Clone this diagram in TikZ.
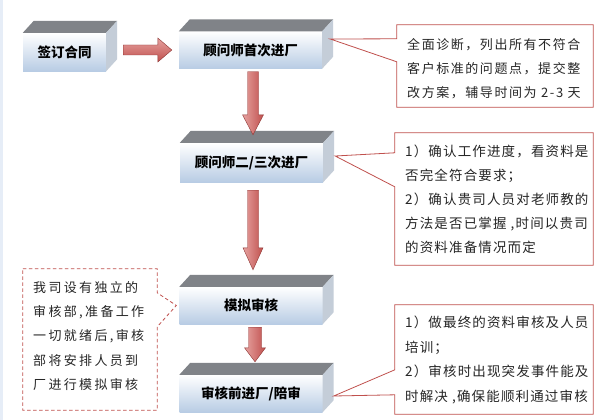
\documentclass[tikz,border=0pt]{standalone}
\usepackage{fontspec}
\newfontfamily\cjk{Noto Sans CJK SC}
\newfontfamily\cjka[LetterSpace=12]{Noto Sans CJK SC}
\newfontfamily\cjkb[LetterSpace=8.5]{Noto Sans CJK SC}
\newfontfamily\cjkc[LetterSpace=18]{Noto Sans CJK SC}
\usetikzlibrary{calc}
\definecolor{frontbot}{HTML}{B8CCE4}
\definecolor{topgray}{HTML}{808388}
\definecolor{sidegray}{HTML}{C4CDD8}
\definecolor{arrowlight}{HTML}{E6A2A0}
\definecolor{arrowmid}{HTML}{C0504D}
\definecolor{arrowdark}{HTML}{8E3634}
\definecolor{callred}{HTML}{C0504D}
\definecolor{edgeblue}{HTML}{E6EDF7}
\definecolor{txt}{HTML}{262626}
\tikzset{
  front/.style={minimum width=143pt, minimum height=37pt, inner sep=0pt,
    top color=white, bottom color=frontbot, text=black,
    font=\cjk\bfseries\fontsize{13.5}{16}\selectfont},
  vbody/.style={draw=arrowdark, line width=0.4pt, left color=arrowlight, right color=arrowmid},
  hbody/.style={draw=arrowdark, line width=0.4pt, top color=arrowlight, bottom color=arrowmid},
  callbox/.style={inner sep=0pt, draw=none},
  callline/.style={draw=callred, line width=0.8pt, fill=white},
  calldash/.style={draw=callred, line width=0.8pt, fill=white, dash pattern=on 3.5pt off 2.5pt},
  calltext/.style={anchor=north west, inner sep=0pt, align=left, text=txt},
}
\newcommand\boxfaces[1]{%
  \fill[topgray] (#1.north west) -- ++(11,-12) -- ($(#1.north east)+(11,-12)$) -- (#1.north east) -- cycle;
  \fill[sidegray] (#1.north east) -- ++(11,-12) -- ($(#1.south east)+(11,-12)$) -- (#1.south east) -- cycle;}
% horizontal arrow: start, end, shaft half, head half, head length
\newcommand\harrow[5]{%
  \path[hbody] let \p1=(#1), \p2=(#2) in
    (\x1,\y1+#3pt) -- (\x2-#5pt,\y1+#3pt) -- (\x2-#5pt,\y1+#4pt) -- (\x2,\y1)
    -- (\x2-#5pt,\y1-#4pt) -- (\x2-#5pt,\y1-#3pt) -- (\x1,\y1-#3pt) -- cycle;}
% vertical arrow
\newcommand\varrow[5]{%
  \path[vbody] let \p1=(#1), \p2=(#2) in
    (\x1-#3pt,\y1) -- (\x1+#3pt,\y1) -- (\x1+#3pt,\y2+#5pt) -- (\x1+#4pt,\y2+#5pt) -- (\x1,\y2)
    -- (\x1-#4pt,\y2+#5pt) -- (\x1-#3pt,\y2+#5pt) -- cycle;}
\begin{document}
\begin{tikzpicture}[x=1pt,y=-1pt]
\fill[white] (0,0) rectangle (602,420);
\useasboundingbox (0,0) rectangle (602,420);
\fill[edgeblue] (0,0) rectangle (2.5,420);

% boxes
\node[front, minimum width=83pt, minimum height=38pt] (b1) at (64.5,52) {签订合同};
\node[front] (b2) at (250.5,50) {顾问师首次进厂};
\node[front, minimum height=39pt] (b3) at (251.5,162.5) {顾问师二/三次进厂};
\node[front] (b4) at (251,305.5) {模拟审核};
\node[front] (b5) at (251,393.5) {审核前进厂/陪审};
\boxfaces{b1}\boxfaces{b2}\boxfaces{b3}\boxfaces{b4}\boxfaces{b5}

% callout frames
\node[callbox, minimum width=196pt, minimum height=82pt] (c1) at (495,66) {};
\node[callbox, minimum width=198pt, minimum height=132pt] (c2) at (494,199) {};
\node[callbox, minimum width=198pt, minimum height=109pt] (c3) at (494,359.5) {};
\node[callbox, minimum width=134pt, minimum height=141pt] (c4) at (90,339.5) {};
\coordinate (p1) at ($(b2.east)+(8,-11)$);
\coordinate (p2) at ($(b3.east)+(12,-6.5)$);
\coordinate (p3) at ($(b5.east)+(11,2.5)$);
\coordinate (p4) at ($(b4.west)+(-3,0)$);
\draw[callline] (c1.north west) -- (c1.north east) -- (c1.south east) -- (c1.south west)
  -- ($(c1.north west)+(0,37)$) -- (p1) -- ($(c1.north west)+(0,14)$) -- cycle;
\draw[callline] (c2.north west) -- (c2.north east) -- (c2.south east) -- (c2.south west)
  -- ($(c2.north west)+(0,54)$) -- (p2) -- ($(c2.north west)+(0,20)$) -- cycle;
\draw[callline] (c3.north west) -- (c3.north east) -- (c3.south east) -- (c3.south west)
  -- ($(c3.north west)+(0,90)$) -- (p3) -- ($(c3.north west)+(0,65)$) -- cycle;
\draw[calldash] (c4.north west) -- (c4.north east) -- ($(c4.north east)+(0,24)$) -- (p4)
  -- ($(c4.north east)+(0,58)$) -- (c4.south east) -- (c4.south west) -- cycle;

% callout texts
\node[calltext, font=\cjka\fontsize{13}{24}\selectfont] (t1) at (407,38)
  {全面诊断，列出所有不符合\\客户标准的问题点，提交整\\改方案，辅导时间为 2-3 天};
\node[calltext, font=\cjkb\fontsize{13.5}{24}\selectfont] (t2) at (405,145)
  {1）确认工作进度，看资料是\\否完全符合要求；\\2）确认贵司人员对老师教的\\方法是否已掌握 ,时间以贵司\\的资料准备情况而定};
\node[calltext, font=\cjkb\fontsize{13.5}{24.6}\selectfont] (t3) at (405,316)
  {1）做最终的资料审核及人员\\培训；\\2）审核时出现突发事件能及\\时解决 ,确保能顺利通过审核};
\node[calltext, font=\cjkc\fontsize{13}{24.3}\selectfont] (t4) at (33,281)
  {我司设有独立的\\审核部,准备工作\\一切就绪后,审核\\部将安排人员到\\厂进行模拟审核};

% arrows
\coordinate (a1s) at ($(b1.east)+(17,-2)$);
\coordinate (a1e) at ($(b2.west)+(-7,0)$);
\harrow{a1s}{a1e}{5}{12}{14}
\coordinate (a2s) at ($(b2.south)+(2.5,3)$);
\coordinate (a2e) at ($(b3.north)+(1.5,-8)$);
\varrow{a2s}{a2e}{5.5}{10.5}{20}
\coordinate (a3s) at ($(b3.south)+(1.5,8)$);
\coordinate (a3e) at ($(b4.north)+(2,-17)$);
\varrow{a3s}{a3e}{5.5}{10}{22}
\coordinate (a4s) at ($(b4.south)+(4,3)$);
\coordinate (a4e) at ($(b5.north)+(4,-13)$);
\varrow{a4s}{a4e}{6.5}{10.5}{14}
\end{tikzpicture}
\end{document}
